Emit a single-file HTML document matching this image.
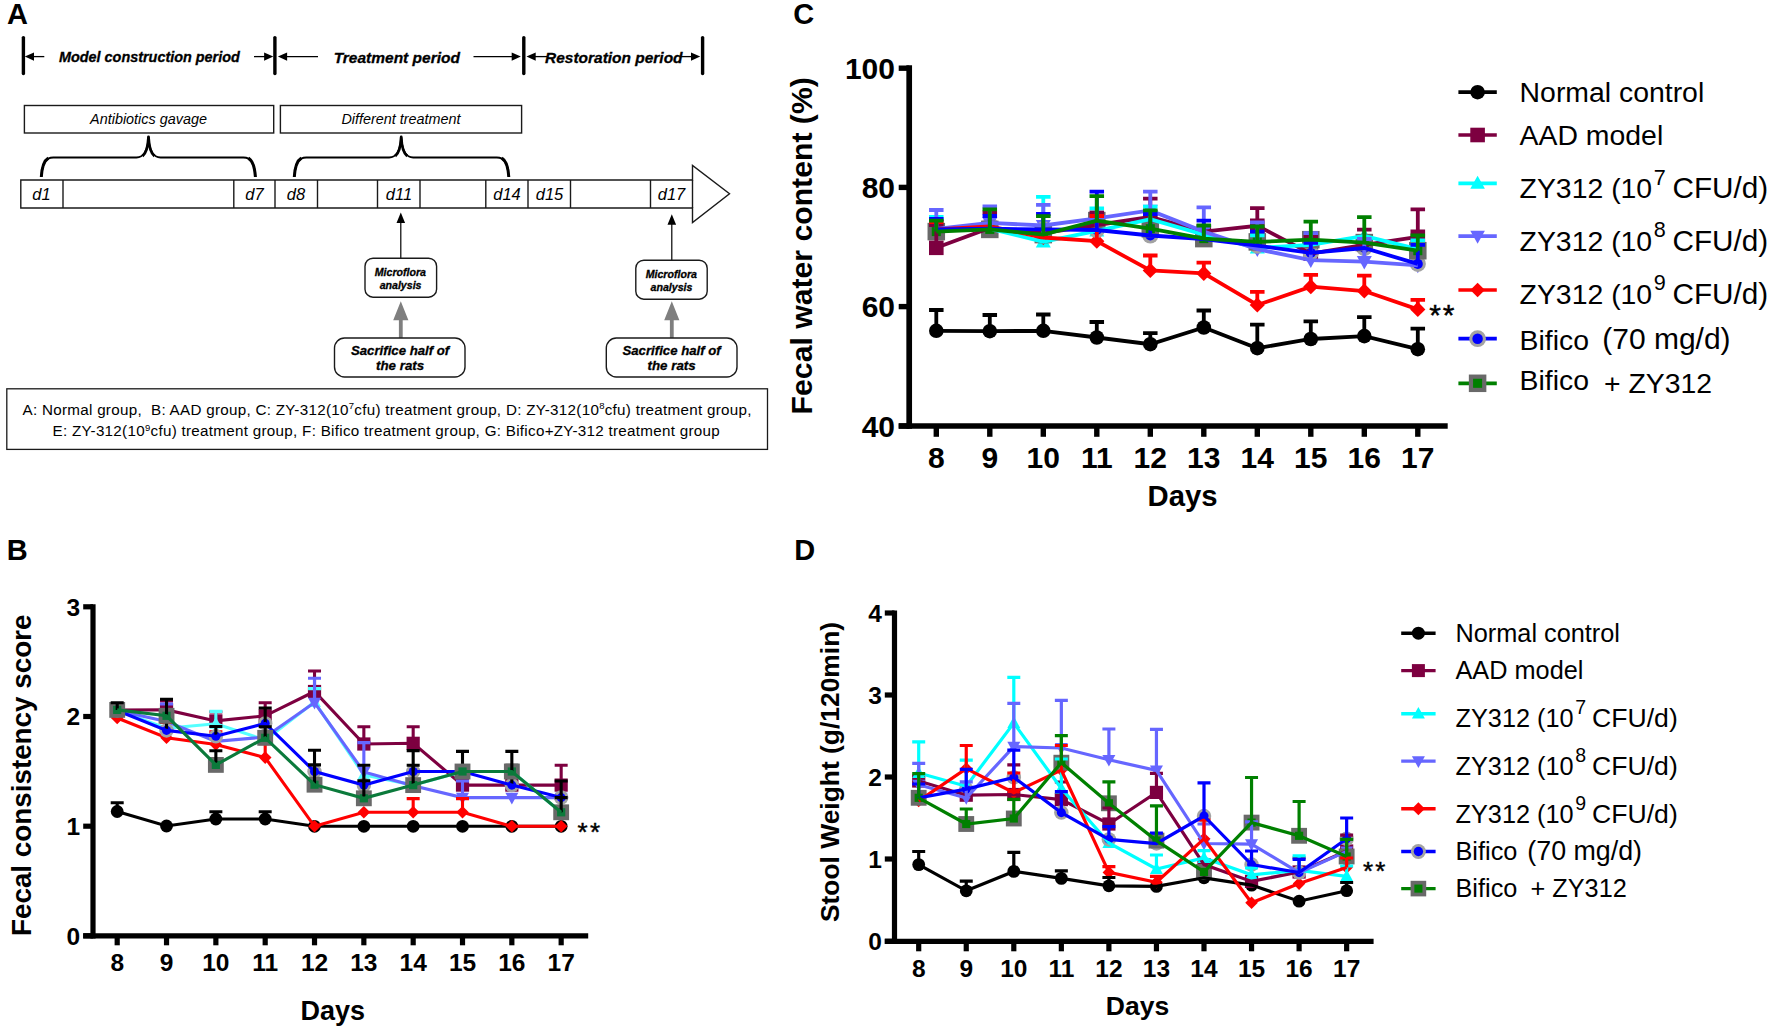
<!DOCTYPE html>
<html lang="en"><head><meta charset="utf-8"><title>Figure</title>
<style>html,body{margin:0;padding:0;background:#fff;}svg{display:block;}text{font-family:"Liberation Sans", sans-serif;}</style>
</head><body>
<svg width="1772" height="1031" viewBox="0 0 1772 1031">
<rect width="1772" height="1031" fill="#fff"/>
<text x="7" y="23.7" font-size="29" font-weight="bold" font-style="normal" text-anchor="start" fill="#000" >A</text>
<text x="6.8" y="559.7" font-size="29" font-weight="bold" font-style="normal" text-anchor="start" fill="#000" >B</text>
<text x="793.2" y="23.9" font-size="29" font-weight="bold" font-style="normal" text-anchor="start" fill="#000" >C</text>
<text x="794.2" y="559.7" font-size="29" font-weight="bold" font-style="normal" text-anchor="start" fill="#000" >D</text>
<g id="panelA">
<line x1="23.4" y1="37.6" x2="23.4" y2="73.6" stroke="#000" stroke-width="3.4" stroke-linecap="round"/>
<line x1="274.9" y1="37.6" x2="274.9" y2="73.6" stroke="#000" stroke-width="3.4" stroke-linecap="round"/>
<line x1="523.8" y1="37.6" x2="523.8" y2="73.6" stroke="#000" stroke-width="3.4" stroke-linecap="round"/>
<line x1="702.6" y1="37.6" x2="702.6" y2="73.6" stroke="#000" stroke-width="3.4" stroke-linecap="round"/>
<line x1="44.3" y1="56.6" x2="30.32" y2="56.6" stroke="#000" stroke-width="1.3"/>
<polygon points="24.8,56.6 34,52.4 34,60.8" fill="#000"/>
<line x1="254" y1="56.6" x2="267.78" y2="56.6" stroke="#000" stroke-width="1.3"/>
<polygon points="273.3,56.6 264.1,52.4 264.1,60.8" fill="#000"/>
<line x1="318" y1="56.6" x2="283.42" y2="56.6" stroke="#000" stroke-width="1.3"/>
<polygon points="277.9,56.6 287.1,52.4 287.1,60.8" fill="#000"/>
<line x1="473.5" y1="56.6" x2="515.38" y2="56.6" stroke="#000" stroke-width="1.3"/>
<polygon points="520.9,56.6 511.7,52.4 511.7,60.8" fill="#000"/>
<line x1="547" y1="56.6" x2="532.02" y2="56.6" stroke="#000" stroke-width="1.3"/>
<polygon points="526.5,56.6 535.7,52.4 535.7,60.8" fill="#000"/>
<line x1="680" y1="56.6" x2="694.68" y2="56.6" stroke="#000" stroke-width="1.3"/>
<polygon points="700.2,56.6 691,52.4 691,60.8" fill="#000"/>
<text x="149.4" y="62.1" font-size="14.42" font-weight="bold" font-style="italic" text-anchor="middle" fill="#000" stroke="#000" stroke-width="0.3">Model construction period</text>
<text x="396.8" y="62.6" font-size="15.5" font-weight="bold" font-style="italic" text-anchor="middle" fill="#000" stroke="#000" stroke-width="0.3">Treatment period</text>
<text x="613.8" y="62.6" font-size="15.47" font-weight="bold" font-style="italic" text-anchor="middle" fill="#000" stroke="#000" stroke-width="0.3">Restoration period</text>
<rect x="24.4" y="105.5" width="249.3" height="27.5" fill="#fff" stroke="#1a1a1a" stroke-width="1.4"/>
<rect x="280.4" y="105.5" width="241.2" height="27.5" fill="#fff" stroke="#1a1a1a" stroke-width="1.4"/>
<text x="148.5" y="123.9" font-size="14.4" font-weight="normal" font-style="italic" text-anchor="middle" fill="#000" >Antibiotics gavage</text>
<text x="401" y="123.8" font-size="14.4" font-weight="normal" font-style="italic" text-anchor="middle" fill="#000" >Different treatment</text>
<path d="M41.3 177 C42.3 163.5 45.3 157.5 53.3 157.5 L136.5 157.5 C143.5 157.5 147.5 151.5 148.5 137 C149.5 151.5 153.5 157.5 160.5 157.5 L243.4 157.5 C251.4 157.5 254.4 163.5 255.4 177" fill="none" stroke="#000" stroke-width="1.8" stroke-linejoin="round"/>
<path d="M41.3 177 C42 165.5 44.3 160.5 48.3 158.1" fill="none" stroke="#000" stroke-width="3"/>
<path d="M255.4 177 C254.7 165.5 252.4 160.5 248.4 158.1" fill="none" stroke="#000" stroke-width="3"/>
<path d="M142.5 156 C146 153.5 147.9 148.5 148.5 137 C149.1 148.5 151 153.5 154.5 156" fill="none" stroke="#000" stroke-width="2.8" stroke-linejoin="round"/>
<path d="M294.3 177 C295.3 163.5 298.3 157.5 306.3 157.5 L389.2 157.5 C396.2 157.5 400.2 151.5 401.2 137 C402.2 151.5 406.2 157.5 413.2 157.5 L496.8 157.5 C504.8 157.5 507.8 163.5 508.8 177" fill="none" stroke="#000" stroke-width="1.8" stroke-linejoin="round"/>
<path d="M294.3 177 C295 165.5 297.3 160.5 301.3 158.1" fill="none" stroke="#000" stroke-width="3"/>
<path d="M508.8 177 C508.1 165.5 505.8 160.5 501.8 158.1" fill="none" stroke="#000" stroke-width="3"/>
<path d="M395.2 156 C398.7 153.5 400.6 148.5 401.2 137 C401.8 148.5 403.7 153.5 407.2 156" fill="none" stroke="#000" stroke-width="2.8" stroke-linejoin="round"/>
<path d="M20.8 180 H692.5 V165.5 L729.5 193.8 L692.5 222.5 V208 H20.8 Z" fill="#fff" stroke="#1a1a1a" stroke-width="1.4" stroke-linejoin="miter"/>
<line x1="63" y1="180" x2="63" y2="208" stroke="#1a1a1a" stroke-width="1.4"/>
<line x1="233.8" y1="180" x2="233.8" y2="208" stroke="#1a1a1a" stroke-width="1.4"/>
<line x1="275" y1="180" x2="275" y2="208" stroke="#1a1a1a" stroke-width="1.4"/>
<line x1="317.5" y1="180" x2="317.5" y2="208" stroke="#1a1a1a" stroke-width="1.4"/>
<line x1="377.5" y1="180" x2="377.5" y2="208" stroke="#1a1a1a" stroke-width="1.4"/>
<line x1="420" y1="180" x2="420" y2="208" stroke="#1a1a1a" stroke-width="1.4"/>
<line x1="485.8" y1="180" x2="485.8" y2="208" stroke="#1a1a1a" stroke-width="1.4"/>
<line x1="528" y1="180" x2="528" y2="208" stroke="#1a1a1a" stroke-width="1.4"/>
<line x1="570.5" y1="180" x2="570.5" y2="208" stroke="#1a1a1a" stroke-width="1.4"/>
<line x1="650.5" y1="180" x2="650.5" y2="208" stroke="#1a1a1a" stroke-width="1.4"/>
<line x1="692.5" y1="180" x2="692.5" y2="208" stroke="#1a1a1a" stroke-width="1.4"/>
<text x="41.5" y="200" font-size="16.5" font-weight="normal" font-style="italic" text-anchor="middle" fill="#000" >d1</text>
<text x="254.5" y="200" font-size="16.5" font-weight="normal" font-style="italic" text-anchor="middle" fill="#000" >d7</text>
<text x="296" y="200" font-size="16.5" font-weight="normal" font-style="italic" text-anchor="middle" fill="#000" >d8</text>
<text x="399" y="200" font-size="16.5" font-weight="normal" font-style="italic" text-anchor="middle" fill="#000" >d11</text>
<text x="507" y="200" font-size="16.5" font-weight="normal" font-style="italic" text-anchor="middle" fill="#000" >d14</text>
<text x="549.5" y="200" font-size="16.5" font-weight="normal" font-style="italic" text-anchor="middle" fill="#000" >d15</text>
<text x="671.5" y="200" font-size="16.5" font-weight="normal" font-style="italic" text-anchor="middle" fill="#000" >d17</text>
<line x1="400.8" y1="218.5" x2="400.8" y2="258" stroke="#000" stroke-width="1.2"/>
<polygon points="400.8,212.5 396.5,223 405.1,223" fill="#000"/>
<line x1="671.8" y1="220.3" x2="671.8" y2="260" stroke="#000" stroke-width="1.2"/>
<polygon points="671.8,214.3 667.5,224.8 676.1,224.8" fill="#000"/>
<rect x="365" y="258.2" width="71.6" height="39" rx="8" ry="8" fill="#fff" stroke="#1a1a1a" stroke-width="1.4"/>
<rect x="635.8" y="260.2" width="71.4" height="39" rx="8" ry="8" fill="#fff" stroke="#1a1a1a" stroke-width="1.4"/>
<text x="400.4" y="275.5" font-size="10.6" font-weight="bold" font-style="italic" text-anchor="middle" fill="#000" stroke="#000" stroke-width="0.3">Microflora</text>
<text x="400.6" y="288.6" font-size="10.6" font-weight="bold" font-style="italic" text-anchor="middle" fill="#000" stroke="#000" stroke-width="0.3">analysis</text>
<text x="671.3" y="277.5" font-size="10.6" font-weight="bold" font-style="italic" text-anchor="middle" fill="#000" stroke="#000" stroke-width="0.3">Microflora</text>
<text x="671.5" y="290.6" font-size="10.6" font-weight="bold" font-style="italic" text-anchor="middle" fill="#000" stroke="#000" stroke-width="0.3">analysis</text>
<polygon points="400.8,301.2 408.4,320.2 402.7,320.2 402.7,338 398.9,338 398.9,320.2 393.2,320.2" fill="#7f7f7f"/>
<polygon points="671.8,301.2 679.4,320.2 673.7,320.2 673.7,338 669.9,338 669.9,320.2 664.2,320.2" fill="#7f7f7f"/>
<rect x="334.5" y="338" width="130.5" height="39" rx="10" ry="10" fill="#fff" stroke="#1a1a1a" stroke-width="1.4"/>
<rect x="606.3" y="338" width="130.7" height="39" rx="10" ry="10" fill="#fff" stroke="#1a1a1a" stroke-width="1.4"/>
<text x="400.1" y="354.7" font-size="13.2" font-weight="bold" font-style="italic" text-anchor="middle" fill="#000" stroke="#000" stroke-width="0.3">Sacrifice half of</text>
<text x="400.1" y="370.3" font-size="13.3" font-weight="bold" font-style="italic" text-anchor="middle" fill="#000" stroke="#000" stroke-width="0.3">the rats</text>
<text x="671.6" y="354.7" font-size="13.2" font-weight="bold" font-style="italic" text-anchor="middle" fill="#000" stroke="#000" stroke-width="0.3">Sacrifice half of</text>
<text x="671.6" y="370.3" font-size="13.3" font-weight="bold" font-style="italic" text-anchor="middle" fill="#000" stroke="#000" stroke-width="0.3">the rats</text>
<rect x="6.8" y="388.8" width="760.7" height="60.6" fill="#fff" stroke="#1a1a1a" stroke-width="1.3"/>
<text x="22.5" y="414.5" font-size="15.2" font-weight="normal" font-style="normal" text-anchor="start" fill="#000" xml:space="preserve" id="legA1" letter-spacing="0.29">A: Normal group,&#160; B: AAD group, C: ZY-312(10<tspan font-size="9.5" dy="-5.6">7</tspan><tspan dy="5.6">cfu) treatment group, D: ZY-312(10</tspan><tspan font-size="9.5" dy="-5.6">8</tspan><tspan dy="5.6">cfu) treatment group,</tspan></text>
<text x="52.5" y="436.2" font-size="15.2" font-weight="normal" font-style="normal" text-anchor="start" fill="#000" id="legA2" letter-spacing="0.29">E: ZY-312(10<tspan font-size="9.5" dy="-5.6">9</tspan><tspan dy="5.6">cfu) treatment group, F: Bifico treatment group, G: Bifico+ZY-312 treatment group</tspan></text>
</g>
<g id="panelC">
<circle cx="936.3" cy="330.8" r="7.3" fill="#000000"/>
<circle cx="989.8" cy="331.2" r="7.3" fill="#000000"/>
<circle cx="1043.3" cy="330.8" r="7.3" fill="#000000"/>
<circle cx="1096.8" cy="337.5" r="7.3" fill="#000000"/>
<circle cx="1150.3" cy="344.2" r="7.3" fill="#000000"/>
<circle cx="1203.8" cy="327.5" r="7.3" fill="#000000"/>
<circle cx="1257.3" cy="348.2" r="7.3" fill="#000000"/>
<circle cx="1310.8" cy="339" r="7.3" fill="#000000"/>
<circle cx="1364.3" cy="336.1" r="7.3" fill="#000000"/>
<circle cx="1417.8" cy="349.2" r="7.3" fill="#000000"/>
<rect x="929" y="240.5" width="14.6" height="14.6" fill="#7d0040"/>
<rect x="982.5" y="220.7" width="14.6" height="14.6" fill="#7d0040"/>
<rect x="1036" y="225.7" width="14.6" height="14.6" fill="#7d0040"/>
<rect x="1089.5" y="217.7" width="14.6" height="14.6" fill="#7d0040"/>
<rect x="1143" y="209.7" width="14.6" height="14.6" fill="#7d0040"/>
<rect x="1196.5" y="224.3" width="14.6" height="14.6" fill="#7d0040"/>
<rect x="1250" y="218.5" width="14.6" height="14.6" fill="#7d0040"/>
<rect x="1303.5" y="246.3" width="14.6" height="14.6" fill="#7d0040"/>
<rect x="1357" y="237.5" width="14.6" height="14.6" fill="#7d0040"/>
<rect x="1410.5" y="229.5" width="14.6" height="14.6" fill="#7d0040"/>
<polygon points="936.3,221.12 928.8,234.62 943.8,234.62" fill="#00ffff"/>
<polygon points="989.8,220.82 982.3,234.32 997.3,234.32" fill="#00ffff"/>
<polygon points="1043.3,234.03 1035.8,247.53 1050.8,247.53" fill="#00ffff"/>
<polygon points="1096.8,223.03 1089.3,236.53 1104.3,236.53" fill="#00ffff"/>
<polygon points="1150.3,211.32 1142.8,224.82 1157.8,224.82" fill="#00ffff"/>
<polygon points="1203.8,226.72 1196.3,240.22 1211.3,240.22" fill="#00ffff"/>
<polygon points="1257.3,239.93 1249.8,253.43 1264.8,253.43" fill="#00ffff"/>
<polygon points="1310.8,236.93 1303.3,250.43 1318.3,250.43" fill="#00ffff"/>
<polygon points="1364.3,228.12 1356.8,241.62 1371.8,241.62" fill="#00ffff"/>
<polygon points="1417.8,241.32 1410.3,254.82 1425.3,254.82" fill="#00ffff"/>
<polygon points="936.3,236.88 928.8,223.38 943.8,223.38" fill="#6666ff"/>
<polygon points="989.8,230.68 982.3,217.18 997.3,217.18" fill="#6666ff"/>
<polygon points="1043.3,233.38 1035.8,219.88 1050.8,219.88" fill="#6666ff"/>
<polygon points="1096.8,226.28 1089.3,212.78 1104.3,212.78" fill="#6666ff"/>
<polygon points="1150.3,218.28 1142.8,204.78 1157.8,204.78" fill="#6666ff"/>
<polygon points="1203.8,239.47 1196.3,225.97 1211.3,225.97" fill="#6666ff"/>
<polygon points="1257.3,257.07 1249.8,243.57 1264.8,243.57" fill="#6666ff"/>
<polygon points="1310.8,268.07 1303.3,254.57 1318.3,254.57" fill="#6666ff"/>
<polygon points="1364.3,269.57 1356.8,256.07 1371.8,256.07" fill="#6666ff"/>
<polygon points="1417.8,273.27 1410.3,259.77 1425.3,259.77" fill="#6666ff"/>
<polygon points="936.3,221.9 943.9,229.5 936.3,237.1 928.7,229.5" fill="#ff0000"/>
<polygon points="989.8,218.9 997.4,226.5 989.8,234.1 982.2,226.5" fill="#ff0000"/>
<polygon points="1043.3,229.9 1050.9,237.5 1043.3,245.1 1035.7,237.5" fill="#ff0000"/>
<polygon points="1096.8,233.6 1104.4,241.2 1096.8,248.8 1089.2,241.2" fill="#ff0000"/>
<polygon points="1150.3,262.9 1157.9,270.5 1150.3,278.1 1142.7,270.5" fill="#ff0000"/>
<polygon points="1203.8,265.8 1211.4,273.4 1203.8,281 1196.2,273.4" fill="#ff0000"/>
<polygon points="1257.3,297.4 1264.9,305 1257.3,312.6 1249.7,305" fill="#ff0000"/>
<polygon points="1310.8,279.1 1318.4,286.7 1310.8,294.3 1303.2,286.7" fill="#ff0000"/>
<polygon points="1364.3,283.4 1371.9,291 1364.3,298.6 1356.7,291" fill="#ff0000"/>
<polygon points="1417.8,301.8 1425.4,309.4 1417.8,317 1410.2,309.4" fill="#ff0000"/>
<circle cx="936.3" cy="229.5" r="8.05" fill="#a3a3a3"/>
<circle cx="936.3" cy="229.5" r="5.04" fill="#0000ff"/>
<circle cx="989.8" cy="228.7" r="8.05" fill="#a3a3a3"/>
<circle cx="989.8" cy="228.7" r="5.04" fill="#0000ff"/>
<circle cx="1043.3" cy="229.4" r="8.05" fill="#a3a3a3"/>
<circle cx="1043.3" cy="229.4" r="5.04" fill="#0000ff"/>
<circle cx="1096.8" cy="230" r="8.05" fill="#a3a3a3"/>
<circle cx="1096.8" cy="230" r="5.04" fill="#0000ff"/>
<circle cx="1150.3" cy="235.5" r="8.05" fill="#a3a3a3"/>
<circle cx="1150.3" cy="235.5" r="5.04" fill="#0000ff"/>
<circle cx="1203.8" cy="239" r="8.05" fill="#a3a3a3"/>
<circle cx="1203.8" cy="239" r="5.04" fill="#0000ff"/>
<circle cx="1257.3" cy="245.6" r="8.05" fill="#a3a3a3"/>
<circle cx="1257.3" cy="245.6" r="5.04" fill="#0000ff"/>
<circle cx="1310.8" cy="252.9" r="8.05" fill="#a3a3a3"/>
<circle cx="1310.8" cy="252.9" r="5.04" fill="#0000ff"/>
<circle cx="1364.3" cy="248" r="8.05" fill="#a3a3a3"/>
<circle cx="1364.3" cy="248" r="5.04" fill="#0000ff"/>
<circle cx="1417.8" cy="263.9" r="8.05" fill="#a3a3a3"/>
<circle cx="1417.8" cy="263.9" r="5.04" fill="#0000ff"/>
<rect x="927.54" y="222.84" width="17.52" height="17.52" fill="#696969"/>
<rect x="931.77" y="227.07" width="9.05" height="9.05" fill="#008000"/>
<rect x="981.04" y="220.64" width="17.52" height="17.52" fill="#696969"/>
<rect x="985.27" y="224.87" width="9.05" height="9.05" fill="#008000"/>
<rect x="1034.54" y="225.84" width="17.52" height="17.52" fill="#696969"/>
<rect x="1038.77" y="230.07" width="9.05" height="9.05" fill="#008000"/>
<rect x="1088.04" y="211.84" width="17.52" height="17.52" fill="#696969"/>
<rect x="1092.27" y="216.07" width="9.05" height="9.05" fill="#008000"/>
<rect x="1141.54" y="219.94" width="17.52" height="17.52" fill="#696969"/>
<rect x="1145.77" y="224.17" width="9.05" height="9.05" fill="#008000"/>
<rect x="1195.04" y="229.84" width="17.52" height="17.52" fill="#696969"/>
<rect x="1199.27" y="234.07" width="9.05" height="9.05" fill="#008000"/>
<rect x="1248.54" y="233.14" width="17.52" height="17.52" fill="#696969"/>
<rect x="1252.77" y="237.37" width="9.05" height="9.05" fill="#008000"/>
<rect x="1302.04" y="230.94" width="17.52" height="17.52" fill="#696969"/>
<rect x="1306.27" y="235.17" width="9.05" height="9.05" fill="#008000"/>
<rect x="1355.54" y="233.84" width="17.52" height="17.52" fill="#696969"/>
<rect x="1359.77" y="238.07" width="9.05" height="9.05" fill="#008000"/>
<rect x="1409.04" y="241.94" width="17.52" height="17.52" fill="#696969"/>
<rect x="1413.27" y="246.17" width="9.05" height="9.05" fill="#008000"/>
<path d="M936.3 330.8V310M929.05 310H943.55M989.8 331.2V315M982.55 315H997.05M1043.3 330.8V314.5M1036.05 314.5H1050.55M1096.8 337.5V322M1089.55 322H1104.05M1150.3 344.2V333.2M1143.05 333.2H1157.55M1203.8 327.5V310.5M1196.55 310.5H1211.05M1257.3 348.2V324.6M1250.05 324.6H1264.55M1310.8 339V321.4M1303.55 321.4H1318.05M1364.3 336.1V317.1M1357.05 317.1H1371.55M1417.8 349.2V328.6M1410.55 328.6H1425.05" stroke="#000000" stroke-width="3.8" fill="none"/>
<polyline points="936.3,330.8 989.8,331.2 1043.3,330.8 1096.8,337.5 1150.3,344.2 1203.8,327.5 1257.3,348.2 1310.8,339 1364.3,336.1 1417.8,349.2" stroke="#000000" stroke-width="3.8" fill="none" stroke-linejoin="miter"/>
<path d="M936.3 247.8V225M929.05 225H943.55M989.8 228V212.5M982.55 212.5H997.05M1096.8 225V212.5M1089.55 212.5H1104.05M1150.3 217V198.6M1143.05 198.6H1157.55M1257.3 225.8V208.2M1250.05 208.2H1264.55M1310.8 253.6V236.8M1303.55 236.8H1318.05M1364.3 244.8V229.7M1357.05 229.7H1371.55M1417.8 236.8V209.3M1410.55 209.3H1425.05" stroke="#7d0040" stroke-width="3.8" fill="none"/>
<polyline points="936.3,247.8 989.8,228 1043.3,233 1096.8,225 1150.3,217 1203.8,231.6 1257.3,225.8 1310.8,253.6 1364.3,244.8 1417.8,236.8" stroke="#7d0040" stroke-width="3.8" fill="none" stroke-linejoin="miter"/>
<path d="M936.3 229V217M929.05 217H943.55M1043.3 241.9V196.9M1036.05 196.9H1050.55M1096.8 230.9V208.4M1089.55 208.4H1104.05M1150.3 219.2V206.7M1143.05 206.7H1157.55M1257.3 247.8V235.3M1250.05 235.3H1264.55M1417.8 249.2V240.4M1410.55 240.4H1425.05" stroke="#00ffff" stroke-width="3.8" fill="none"/>
<polyline points="936.3,229 989.8,228.7 1043.3,241.9 1096.8,230.9 1150.3,219.2 1203.8,234.6 1257.3,247.8 1310.8,244.8 1364.3,236 1417.8,249.2" stroke="#00ffff" stroke-width="3.8" fill="none" stroke-linejoin="miter"/>
<path d="M936.3 229V210M929.05 210H943.55M989.8 222.8V206.4M982.55 206.4H997.05M1043.3 225.5V204.8M1036.05 204.8H1050.55M1150.3 210.4V191.7M1143.05 191.7H1157.55M1203.8 231.6V207.4M1196.55 207.4H1211.05M1257.3 249.2V222.4M1250.05 222.4H1264.55M1310.8 260.2V233.1M1303.55 233.1H1318.05M1364.3 261.7V239M1357.05 239H1371.55" stroke="#6666ff" stroke-width="3.8" fill="none"/>
<polyline points="936.3,229 989.8,222.8 1043.3,225.5 1096.8,218.4 1150.3,210.4 1203.8,231.6 1257.3,249.2 1310.8,260.2 1364.3,261.7 1417.8,265.4" stroke="#6666ff" stroke-width="3.8" fill="none" stroke-linejoin="miter"/>
<path d="M936.3 229.5V222M929.05 222H943.55M1096.8 241.2V216M1089.55 216H1104.05M1150.3 270.5V255.5M1143.05 255.5H1157.55M1203.8 273.4V262.7M1196.55 262.7H1211.05M1257.3 305V291.8M1250.05 291.8H1264.55M1310.8 286.7V274.9M1303.55 274.9H1318.05M1364.3 291V275.7M1357.05 275.7H1371.55M1417.8 309.4V299.9M1410.55 299.9H1425.05" stroke="#ff0000" stroke-width="3.8" fill="none"/>
<polyline points="936.3,229.5 989.8,226.5 1043.3,237.5 1096.8,241.2 1150.3,270.5 1203.8,273.4 1257.3,305 1310.8,286.7 1364.3,291 1417.8,309.4" stroke="#ff0000" stroke-width="3.8" fill="none" stroke-linejoin="miter"/>
<path d="M936.3 229.5V219M929.05 219H943.55M989.8 228.7V216M982.55 216H997.05M1043.3 229.4V214M1036.05 214H1050.55M1096.8 230V191.7M1089.55 191.7H1104.05M1150.3 235.5V214M1143.05 214H1157.55M1203.8 239V220.6M1196.55 220.6H1211.05M1257.3 245.6V231.6M1250.05 231.6H1264.55M1310.8 252.9V242.9M1303.55 242.9H1318.05M1417.8 263.9V244.8M1410.55 244.8H1425.05" stroke="#0000ff" stroke-width="3.8" fill="none"/>
<polyline points="936.3,229.5 989.8,228.7 1043.3,229.4 1096.8,230 1150.3,235.5 1203.8,239 1257.3,245.6 1310.8,252.9 1364.3,248 1417.8,263.9" stroke="#0000ff" stroke-width="3.8" fill="none" stroke-linejoin="miter"/>
<path d="M936.3 231.6V220.6M929.05 220.6H943.55M989.8 229.4V209.3M982.55 209.3H997.05M1043.3 234.6V216.2M1036.05 216.2H1050.55M1096.8 220.6V196.1M1089.55 196.1H1104.05M1150.3 228.7V210.4M1143.05 210.4H1157.55M1203.8 238.6V225.5M1196.55 225.5H1211.05M1257.3 241.9V226.5M1250.05 226.5H1264.55M1310.8 239.7V221.7M1303.55 221.7H1318.05M1364.3 242.6V217.2M1357.05 217.2H1371.55M1417.8 250.7V235.3M1410.55 235.3H1425.05" stroke="#008000" stroke-width="3.8" fill="none"/>
<polyline points="936.3,231.6 989.8,229.4 1043.3,234.6 1096.8,220.6 1150.3,228.7 1203.8,238.6 1257.3,241.9 1310.8,239.7 1364.3,242.6 1417.8,250.7" stroke="#008000" stroke-width="3.8" fill="none" stroke-linejoin="miter"/>
<line x1="909.2" y1="65.2" x2="909.2" y2="428.85" stroke="#000" stroke-width="5.7"/>
<line x1="898.7" y1="426" x2="1447.7" y2="426" stroke="#000" stroke-width="5.7"/>
<line x1="898.7" y1="68.2" x2="909.2" y2="68.2" stroke="#000" stroke-width="5.4"/>
<text x="895" y="78.94" font-size="30" font-weight="bold" font-style="normal" text-anchor="end" fill="#000" >100</text>
<line x1="898.7" y1="187.4" x2="909.2" y2="187.4" stroke="#000" stroke-width="5.4"/>
<text x="895" y="198.14" font-size="30" font-weight="bold" font-style="normal" text-anchor="end" fill="#000" >80</text>
<line x1="898.7" y1="306.6" x2="909.2" y2="306.6" stroke="#000" stroke-width="5.4"/>
<text x="895" y="317.34" font-size="30" font-weight="bold" font-style="normal" text-anchor="end" fill="#000" >60</text>
<line x1="898.7" y1="426" x2="909.2" y2="426" stroke="#000" stroke-width="5.4"/>
<text x="895" y="436.74" font-size="30" font-weight="bold" font-style="normal" text-anchor="end" fill="#000" >40</text>
<line x1="936.3" y1="426" x2="936.3" y2="436.8" stroke="#000" stroke-width="5.4"/>
<text x="936.3" y="467.7" font-size="30" font-weight="bold" font-style="normal" text-anchor="middle" fill="#000" >8</text>
<line x1="989.8" y1="426" x2="989.8" y2="436.8" stroke="#000" stroke-width="5.4"/>
<text x="989.8" y="467.7" font-size="30" font-weight="bold" font-style="normal" text-anchor="middle" fill="#000" >9</text>
<line x1="1043.3" y1="426" x2="1043.3" y2="436.8" stroke="#000" stroke-width="5.4"/>
<text x="1043.3" y="467.7" font-size="30" font-weight="bold" font-style="normal" text-anchor="middle" fill="#000" >10</text>
<line x1="1096.8" y1="426" x2="1096.8" y2="436.8" stroke="#000" stroke-width="5.4"/>
<text x="1096.8" y="467.7" font-size="30" font-weight="bold" font-style="normal" text-anchor="middle" fill="#000" >11</text>
<line x1="1150.3" y1="426" x2="1150.3" y2="436.8" stroke="#000" stroke-width="5.4"/>
<text x="1150.3" y="467.7" font-size="30" font-weight="bold" font-style="normal" text-anchor="middle" fill="#000" >12</text>
<line x1="1203.8" y1="426" x2="1203.8" y2="436.8" stroke="#000" stroke-width="5.4"/>
<text x="1203.8" y="467.7" font-size="30" font-weight="bold" font-style="normal" text-anchor="middle" fill="#000" >13</text>
<line x1="1257.3" y1="426" x2="1257.3" y2="436.8" stroke="#000" stroke-width="5.4"/>
<text x="1257.3" y="467.7" font-size="30" font-weight="bold" font-style="normal" text-anchor="middle" fill="#000" >14</text>
<line x1="1310.8" y1="426" x2="1310.8" y2="436.8" stroke="#000" stroke-width="5.4"/>
<text x="1310.8" y="467.7" font-size="30" font-weight="bold" font-style="normal" text-anchor="middle" fill="#000" >15</text>
<line x1="1364.3" y1="426" x2="1364.3" y2="436.8" stroke="#000" stroke-width="5.4"/>
<text x="1364.3" y="467.7" font-size="30" font-weight="bold" font-style="normal" text-anchor="middle" fill="#000" >16</text>
<line x1="1417.8" y1="426" x2="1417.8" y2="436.8" stroke="#000" stroke-width="5.4"/>
<text x="1417.8" y="467.7" font-size="30" font-weight="bold" font-style="normal" text-anchor="middle" fill="#000" >17</text>
<text x="1182.5" y="505.6" font-size="29.3" font-weight="bold" font-style="normal" text-anchor="middle" fill="#000" >Days</text>
<text transform="translate(811.8 245.8) rotate(-90)" font-size="30.2" font-weight="bold" text-anchor="middle">Fecal water content (%)</text>
<text x="1429.3" y="325.3" font-size="30" font-weight="normal" font-style="normal" text-anchor="start" fill="#000" letter-spacing="1.7" stroke="#000" stroke-width="0.45">**</text>
</g>
<g id="legendC">
<line x1="1458.4" y1="92.2" x2="1496.8" y2="92.2" stroke="#000000" stroke-width="3.7"/>
<circle cx="1477.6" cy="92.2" r="7.3" fill="#000000"/>
<text x="1519.6" y="102.2" font-size="28.4" font-weight="normal" font-style="normal" text-anchor="start" fill="#000" xml:space="preserve">Normal control</text>
<line x1="1458.4" y1="135" x2="1496.8" y2="135" stroke="#7d0040" stroke-width="3.7"/>
<rect x="1470.3" y="127.7" width="14.6" height="14.6" fill="#7d0040"/>
<text x="1519.6" y="144.9" font-size="28.4" font-weight="normal" font-style="normal" text-anchor="start" fill="#000" xml:space="preserve">AAD model</text>
<line x1="1458.4" y1="183.3" x2="1496.8" y2="183.3" stroke="#00ffff" stroke-width="3.7"/>
<polygon points="1477.6,175.64 1470.3,188.78 1484.9,188.78" fill="#00ffff"/>
<text x="1519.6" y="198.3" font-size="28.4" font-weight="normal" font-style="normal" text-anchor="start" fill="#000" xml:space="preserve">ZY312 (10<tspan font-size="21.6" dy="-13.7" dx="1.5">7</tspan><tspan dy="13.7" dx="-1.4" font-size="29.7"> CFU/d)</tspan></text>
<line x1="1458.4" y1="236.2" x2="1496.8" y2="236.2" stroke="#6666ff" stroke-width="3.7"/>
<polygon points="1477.6,243.86 1470.3,230.72 1484.9,230.72" fill="#6666ff"/>
<text x="1519.6" y="250.8" font-size="28.4" font-weight="normal" font-style="normal" text-anchor="start" fill="#000" xml:space="preserve">ZY312 (10<tspan font-size="21.6" dy="-13.7" dx="1.5">8</tspan><tspan dy="13.7" dx="-1.4" font-size="29.7"> CFU/d)</tspan></text>
<line x1="1458.4" y1="290" x2="1496.8" y2="290" stroke="#ff0000" stroke-width="3.7"/>
<polygon points="1477.6,282.7 1484.9,290 1477.6,297.3 1470.3,290" fill="#ff0000"/>
<text x="1519.6" y="304" font-size="28.4" font-weight="normal" font-style="normal" text-anchor="start" fill="#000" xml:space="preserve">ZY312 (10<tspan font-size="21.6" dy="-13.7" dx="1.5">9</tspan><tspan dy="13.7" dx="-1.4" font-size="29.7"> CFU/d)</tspan></text>
<line x1="1458.4" y1="338.7" x2="1496.8" y2="338.7" stroke="#0000ff" stroke-width="3.7"/>
<circle cx="1477.6" cy="338.7" r="8.39" fill="#a3a3a3"/>
<circle cx="1477.6" cy="338.7" r="5.26" fill="#0000ff"/>
<text x="1519.6" y="350" font-size="28.4" font-weight="normal" font-style="normal" text-anchor="start" fill="#000" xml:space="preserve">Bifico<tspan dx="13.2" dy="-1.5" font-size="30">(70 mg/d)</tspan></text>
<line x1="1458.4" y1="383.3" x2="1496.8" y2="383.3" stroke="#008000" stroke-width="3.7"/>
<rect x="1468.84" y="374.54" width="17.52" height="17.52" fill="#696969"/>
<rect x="1473.07" y="378.77" width="9.05" height="9.05" fill="#008000"/>
<text x="1519.6" y="390.2" font-size="28.4" font-weight="normal" font-style="normal" text-anchor="start" fill="#000" xml:space="preserve">Bifico<tspan dx="15" dy="3.2">+ ZY312</tspan></text>
</g>
<g id="panelB">
<circle cx="117.2" cy="811.5" r="6.4" fill="#000000"/>
<circle cx="166.53" cy="826" r="6.4" fill="#000000"/>
<circle cx="215.86" cy="819" r="6.4" fill="#000000"/>
<circle cx="265.19" cy="819" r="6.4" fill="#000000"/>
<circle cx="314.52" cy="826.3" r="6.4" fill="#000000"/>
<circle cx="363.85" cy="826.3" r="6.4" fill="#000000"/>
<circle cx="413.18" cy="826.3" r="6.4" fill="#000000"/>
<circle cx="462.51" cy="826.3" r="6.4" fill="#000000"/>
<circle cx="511.84" cy="826.3" r="6.4" fill="#000000"/>
<circle cx="561.17" cy="826.3" r="6.4" fill="#000000"/>
<path d="M117.2 811.5V802.7M110.7 802.7H123.7M215.86 819V811.8M209.36 811.8H222.36M265.19 819V811.8M258.69 811.8H271.69" stroke="#000000" stroke-width="3.1" fill="none"/>
<polyline points="117.2,811.5 166.53,826 215.86,819 265.19,819 314.52,826.3 363.85,826.3 413.18,826.3 462.51,826.3 511.84,826.3 561.17,826.3" stroke="#000000" stroke-width="3.1" fill="none" stroke-linejoin="miter"/>
<rect x="110.6" y="703.4" width="13.2" height="13.2" fill="#7d0040"/>
<rect x="159.93" y="703.3" width="13.2" height="13.2" fill="#7d0040"/>
<rect x="209.26" y="714.3" width="13.2" height="13.2" fill="#7d0040"/>
<rect x="258.59" y="709.2" width="13.2" height="13.2" fill="#7d0040"/>
<rect x="307.92" y="684.9" width="13.2" height="13.2" fill="#7d0040"/>
<rect x="357.25" y="737.4" width="13.2" height="13.2" fill="#7d0040"/>
<rect x="406.58" y="736.7" width="13.2" height="13.2" fill="#7d0040"/>
<rect x="455.91" y="778.5" width="13.2" height="13.2" fill="#7d0040"/>
<rect x="505.24" y="778.5" width="13.2" height="13.2" fill="#7d0040"/>
<rect x="554.57" y="778.5" width="13.2" height="13.2" fill="#7d0040"/>
<path d="M166.53 709.9V701M160.03 701H173.03M215.86 720.9V712M209.36 712H222.36M265.19 715.8V702.8M258.69 702.8H271.69M314.52 691.5V671M308.02 671H321.02M363.85 744V726.7M357.35 726.7H370.35M413.18 743.3V726.7M406.68 726.7H419.68M561.17 785.1V765.3M554.67 765.3H567.67" stroke="#7d0040" stroke-width="3.1" fill="none"/>
<polyline points="117.2,710 166.53,709.9 215.86,720.9 265.19,715.8 314.52,691.5 363.85,744 413.18,743.3 462.51,785.1 511.84,785.1 561.17,785.1" stroke="#7d0040" stroke-width="3.1" fill="none" stroke-linejoin="miter"/>
<polygon points="117.2,703.67 110.7,715.38 123.7,715.38" fill="#55ffff"/>
<polygon points="166.53,721.38 160.03,733.08 173.03,733.08" fill="#55ffff"/>
<polygon points="215.86,716.97 209.36,728.67 222.36,728.67" fill="#55ffff"/>
<polygon points="265.19,733.17 258.69,744.88 271.69,744.88" fill="#55ffff"/>
<polygon points="314.52,695.17 308.02,706.88 321.02,706.88" fill="#55ffff"/>
<polygon points="363.85,767.97 357.35,779.67 370.35,779.67" fill="#55ffff"/>
<polygon points="413.18,778.27 406.68,789.98 419.68,789.98" fill="#55ffff"/>
<polygon points="462.51,764.67 456.01,776.38 469.01,776.38" fill="#55ffff"/>
<polygon points="511.84,764.67 505.34,776.38 518.34,776.38" fill="#55ffff"/>
<polygon points="561.17,805.47 554.67,817.17 567.67,817.17" fill="#55ffff"/>
<path d="M215.86 723.8V711.4M209.36 711.4H222.36M314.52 702V688.6M308.02 688.6H321.02" stroke="#55ffff" stroke-width="3.1" fill="none"/>
<polyline points="117.2,710.5 166.53,728.2 215.86,723.8 265.19,740 314.52,702 363.85,774.8 413.18,785.1 462.51,771.5 511.84,771.5 561.17,812.3" stroke="#55ffff" stroke-width="3.1" fill="none" stroke-linejoin="miter"/>
<polygon points="117.2,717.33 110.7,705.62 123.7,705.62" fill="#6666ff"/>
<polygon points="166.53,728.43 160.03,716.73 173.03,716.73" fill="#6666ff"/>
<polygon points="215.86,748.23 209.36,736.52 222.36,736.52" fill="#6666ff"/>
<polygon points="265.19,743.83 258.69,732.12 271.69,732.12" fill="#6666ff"/>
<polygon points="314.52,709.43 308.02,697.73 321.02,697.73" fill="#6666ff"/>
<polygon points="363.85,778.73 357.35,767.02 370.35,767.02" fill="#6666ff"/>
<polygon points="413.18,792.62 406.68,780.92 419.68,780.92" fill="#6666ff"/>
<polygon points="462.51,804.43 456.01,792.73 469.01,792.73" fill="#6666ff"/>
<polygon points="511.84,804.43 505.34,792.73 518.34,792.73" fill="#6666ff"/>
<polygon points="561.17,804.43 554.67,792.73 567.67,792.73" fill="#6666ff"/>
<path d="M166.53 721.6V704M160.03 704H173.03M314.52 702.6V678.3M308.02 678.3H321.02M363.85 771.9V742.6M357.35 742.6H370.35M462.51 797.6V781M456.01 781H469.01" stroke="#6666ff" stroke-width="3.1" fill="none"/>
<polyline points="117.2,710.5 166.53,721.6 215.86,741.4 265.19,737 314.52,702.6 363.85,771.9 413.18,785.8 462.51,797.6 511.84,797.6 561.17,797.6" stroke="#6666ff" stroke-width="3.1" fill="none" stroke-linejoin="miter"/>
<polygon points="117.2,711.7 123.5,718 117.2,724.3 110.9,718" fill="#ff0000"/>
<polygon points="166.53,731.5 172.83,737.8 166.53,744.1 160.23,737.8" fill="#ff0000"/>
<polygon points="215.86,738.1 222.16,744.4 215.86,750.7 209.56,744.4" fill="#ff0000"/>
<polygon points="265.19,751.3 271.49,757.6 265.19,763.9 258.89,757.6" fill="#ff0000"/>
<polygon points="314.52,820 320.82,826.3 314.52,832.6 308.22,826.3" fill="#ff0000"/>
<polygon points="363.85,806 370.15,812.3 363.85,818.6 357.55,812.3" fill="#ff0000"/>
<polygon points="413.18,806 419.48,812.3 413.18,818.6 406.88,812.3" fill="#ff0000"/>
<polygon points="462.51,806 468.81,812.3 462.51,818.6 456.21,812.3" fill="#ff0000"/>
<polygon points="511.84,820 518.14,826.3 511.84,832.6 505.54,826.3" fill="#ff0000"/>
<polygon points="561.17,820 567.47,826.3 561.17,832.6 554.87,826.3" fill="#ff0000"/>
<path d="M166.53 737.8V722.4M160.03 722.4H173.03M215.86 744.4V731.9M209.36 731.9H222.36M265.19 757.6V743.6M258.69 743.6H271.69M413.18 812.3V798.6M406.68 798.6H419.68M462.51 812.3V798.6M456.01 798.6H469.01" stroke="#ff0000" stroke-width="3.1" fill="none"/>
<polyline points="117.2,718 166.53,737.8 215.86,744.4 265.19,757.6 314.52,826.3 363.85,812.3 413.18,812.3 462.51,812.3 511.84,826.3 561.17,826.3" stroke="#ff0000" stroke-width="3.1" fill="none" stroke-linejoin="miter"/>
<circle cx="117.2" cy="710.5" r="7.24" fill="#a3a3a3"/>
<circle cx="117.2" cy="710.5" r="4.54" fill="#0000ff"/>
<circle cx="166.53" cy="730.4" r="7.24" fill="#a3a3a3"/>
<circle cx="166.53" cy="730.4" r="4.54" fill="#0000ff"/>
<circle cx="215.86" cy="736.3" r="7.24" fill="#a3a3a3"/>
<circle cx="215.86" cy="736.3" r="4.54" fill="#0000ff"/>
<circle cx="265.19" cy="723.4" r="7.24" fill="#a3a3a3"/>
<circle cx="265.19" cy="723.4" r="4.54" fill="#0000ff"/>
<circle cx="314.52" cy="771.5" r="7.24" fill="#a3a3a3"/>
<circle cx="314.52" cy="771.5" r="4.54" fill="#0000ff"/>
<circle cx="363.85" cy="785.1" r="7.24" fill="#a3a3a3"/>
<circle cx="363.85" cy="785.1" r="4.54" fill="#0000ff"/>
<circle cx="413.18" cy="771.5" r="7.24" fill="#a3a3a3"/>
<circle cx="413.18" cy="771.5" r="4.54" fill="#0000ff"/>
<circle cx="462.51" cy="771.5" r="7.24" fill="#a3a3a3"/>
<circle cx="462.51" cy="771.5" r="4.54" fill="#0000ff"/>
<circle cx="511.84" cy="785.1" r="7.24" fill="#a3a3a3"/>
<circle cx="511.84" cy="785.1" r="4.54" fill="#0000ff"/>
<circle cx="561.17" cy="797.6" r="7.24" fill="#a3a3a3"/>
<circle cx="561.17" cy="797.6" r="4.54" fill="#0000ff"/>
<path d="M166.53 730.4V716M160.03 716H173.03M215.86 736.3V726.5M209.36 726.5H222.36M265.19 723.4V708M258.69 708H271.69M314.52 771.5V750.2M308.02 750.2H321.02M363.85 785.1V765.3M357.35 765.3H370.35M413.18 771.5V750.6M406.68 750.6H419.68M462.51 771.5V751.4M456.01 751.4H469.01M511.84 785.1V765.3M505.34 765.3H518.34M561.17 797.6V781M554.67 781H567.67" stroke="#000" stroke-width="3.1" fill="none"/>
<polyline points="117.2,710.5 166.53,730.4 215.86,736.3 265.19,723.4 314.52,771.5 363.85,785.1 413.18,771.5 462.51,771.5 511.84,785.1 561.17,797.6" stroke="#0000ff" stroke-width="3.1" fill="none" stroke-linejoin="miter"/>
<rect x="109.28" y="701.98" width="15.84" height="15.84" fill="#696969"/>
<rect x="113.11" y="705.81" width="8.18" height="8.18" fill="#0b7a3b"/>
<rect x="158.61" y="707.88" width="15.84" height="15.84" fill="#696969"/>
<rect x="162.44" y="711.71" width="8.18" height="8.18" fill="#0b7a3b"/>
<rect x="207.94" y="756.98" width="15.84" height="15.84" fill="#696969"/>
<rect x="211.77" y="760.81" width="8.18" height="8.18" fill="#0b7a3b"/>
<rect x="257.27" y="729.88" width="15.84" height="15.84" fill="#696969"/>
<rect x="261.1" y="733.71" width="8.18" height="8.18" fill="#0b7a3b"/>
<rect x="306.6" y="776.78" width="15.84" height="15.84" fill="#696969"/>
<rect x="310.43" y="780.61" width="8.18" height="8.18" fill="#0b7a3b"/>
<rect x="355.93" y="790.38" width="15.84" height="15.84" fill="#696969"/>
<rect x="359.76" y="794.21" width="8.18" height="8.18" fill="#0b7a3b"/>
<rect x="405.26" y="777.18" width="15.84" height="15.84" fill="#696969"/>
<rect x="409.09" y="781.01" width="8.18" height="8.18" fill="#0b7a3b"/>
<rect x="454.59" y="763.58" width="15.84" height="15.84" fill="#696969"/>
<rect x="458.42" y="767.41" width="8.18" height="8.18" fill="#0b7a3b"/>
<rect x="503.92" y="763.58" width="15.84" height="15.84" fill="#696969"/>
<rect x="507.75" y="767.41" width="8.18" height="8.18" fill="#0b7a3b"/>
<rect x="553.25" y="804.38" width="15.84" height="15.84" fill="#696969"/>
<rect x="557.08" y="808.21" width="8.18" height="8.18" fill="#0b7a3b"/>
<path d="M117.2 709.9V702.8M110.7 702.8H123.7M166.53 715.8V699.3M160.03 699.3H173.03M215.86 764.9V750.7M209.36 750.7H222.36M265.19 737.8V726.8M258.69 726.8H271.69M314.52 784.7V764.9M308.02 764.9H321.02M363.85 798.3V780.7M357.35 780.7H370.35M413.18 785.1V765.3M406.68 765.3H419.68M511.84 771.5V751.4M505.34 751.4H518.34M561.17 812.3V797.6M554.67 797.6H567.67" stroke="#000" stroke-width="3.1" fill="none"/>
<polyline points="117.2,709.9 166.53,715.8 215.86,764.9 265.19,737.8 314.52,784.7 363.85,798.3 413.18,785.1 462.51,771.5 511.84,771.5 561.17,812.3" stroke="#0b7a3b" stroke-width="3.1" fill="none" stroke-linejoin="miter"/>
<line x1="93" y1="604.2" x2="93" y2="938.4" stroke="#000" stroke-width="5.2"/>
<line x1="83.2" y1="935.8" x2="588.2" y2="935.8" stroke="#000" stroke-width="5.2"/>
<line x1="83.2" y1="606.8" x2="93" y2="606.8" stroke="#000" stroke-width="5.2"/>
<text x="80.2" y="615.57" font-size="24.5" font-weight="bold" font-style="normal" text-anchor="end" fill="#000" >3</text>
<line x1="83.2" y1="716.5" x2="93" y2="716.5" stroke="#000" stroke-width="5.2"/>
<text x="80.2" y="725.27" font-size="24.5" font-weight="bold" font-style="normal" text-anchor="end" fill="#000" >2</text>
<line x1="83.2" y1="826.2" x2="93" y2="826.2" stroke="#000" stroke-width="5.2"/>
<text x="80.2" y="834.97" font-size="24.5" font-weight="bold" font-style="normal" text-anchor="end" fill="#000" >1</text>
<line x1="83.2" y1="935.8" x2="93" y2="935.8" stroke="#000" stroke-width="5.2"/>
<text x="80.2" y="944.57" font-size="24.5" font-weight="bold" font-style="normal" text-anchor="end" fill="#000" >0</text>
<line x1="117.2" y1="935.8" x2="117.2" y2="945.3" stroke="#000" stroke-width="5.2"/>
<text x="117.2" y="971.3" font-size="24.5" font-weight="bold" font-style="normal" text-anchor="middle" fill="#000" >8</text>
<line x1="166.53" y1="935.8" x2="166.53" y2="945.3" stroke="#000" stroke-width="5.2"/>
<text x="166.53" y="971.3" font-size="24.5" font-weight="bold" font-style="normal" text-anchor="middle" fill="#000" >9</text>
<line x1="215.86" y1="935.8" x2="215.86" y2="945.3" stroke="#000" stroke-width="5.2"/>
<text x="215.86" y="971.3" font-size="24.5" font-weight="bold" font-style="normal" text-anchor="middle" fill="#000" >10</text>
<line x1="265.19" y1="935.8" x2="265.19" y2="945.3" stroke="#000" stroke-width="5.2"/>
<text x="265.19" y="971.3" font-size="24.5" font-weight="bold" font-style="normal" text-anchor="middle" fill="#000" >11</text>
<line x1="314.52" y1="935.8" x2="314.52" y2="945.3" stroke="#000" stroke-width="5.2"/>
<text x="314.52" y="971.3" font-size="24.5" font-weight="bold" font-style="normal" text-anchor="middle" fill="#000" >12</text>
<line x1="363.85" y1="935.8" x2="363.85" y2="945.3" stroke="#000" stroke-width="5.2"/>
<text x="363.85" y="971.3" font-size="24.5" font-weight="bold" font-style="normal" text-anchor="middle" fill="#000" >13</text>
<line x1="413.18" y1="935.8" x2="413.18" y2="945.3" stroke="#000" stroke-width="5.2"/>
<text x="413.18" y="971.3" font-size="24.5" font-weight="bold" font-style="normal" text-anchor="middle" fill="#000" >14</text>
<line x1="462.51" y1="935.8" x2="462.51" y2="945.3" stroke="#000" stroke-width="5.2"/>
<text x="462.51" y="971.3" font-size="24.5" font-weight="bold" font-style="normal" text-anchor="middle" fill="#000" >15</text>
<line x1="511.84" y1="935.8" x2="511.84" y2="945.3" stroke="#000" stroke-width="5.2"/>
<text x="511.84" y="971.3" font-size="24.5" font-weight="bold" font-style="normal" text-anchor="middle" fill="#000" >16</text>
<line x1="561.17" y1="935.8" x2="561.17" y2="945.3" stroke="#000" stroke-width="5.2"/>
<text x="561.17" y="971.3" font-size="24.5" font-weight="bold" font-style="normal" text-anchor="middle" fill="#000" >17</text>
<text x="332.8" y="1020" font-size="27" font-weight="bold" font-style="normal" text-anchor="middle" fill="#000" >Days</text>
<text transform="translate(31 775.3) rotate(-90)" font-size="27.8" font-weight="bold" text-anchor="middle">Fecal consistency score</text>
<text x="577.5" y="840.8" font-size="26" font-weight="normal" font-style="normal" text-anchor="start" fill="#000" letter-spacing="2.4" stroke="#000" stroke-width="0.45">**</text>
</g>
<g id="panelD">
<circle cx="918.7" cy="864.6" r="6.4" fill="#000000"/>
<circle cx="966.25" cy="890.8" r="6.4" fill="#000000"/>
<circle cx="1013.8" cy="871.4" r="6.4" fill="#000000"/>
<circle cx="1061.35" cy="878.4" r="6.4" fill="#000000"/>
<circle cx="1108.9" cy="885.8" r="6.4" fill="#000000"/>
<circle cx="1156.45" cy="886.4" r="6.4" fill="#000000"/>
<circle cx="1204" cy="877.8" r="6.4" fill="#000000"/>
<circle cx="1251.55" cy="885.1" r="6.4" fill="#000000"/>
<circle cx="1299.1" cy="901.2" r="6.4" fill="#000000"/>
<circle cx="1346.65" cy="890.7" r="6.4" fill="#000000"/>
<rect x="912.1" y="774.4" width="13.2" height="13.2" fill="#7d0040"/>
<rect x="959.65" y="788.6" width="13.2" height="13.2" fill="#7d0040"/>
<rect x="1007.2" y="787.9" width="13.2" height="13.2" fill="#7d0040"/>
<rect x="1054.75" y="793" width="13.2" height="13.2" fill="#7d0040"/>
<rect x="1102.3" y="817.4" width="13.2" height="13.2" fill="#7d0040"/>
<rect x="1149.85" y="785.8" width="13.2" height="13.2" fill="#7d0040"/>
<rect x="1197.4" y="858" width="13.2" height="13.2" fill="#7d0040"/>
<rect x="1244.95" y="874.8" width="13.2" height="13.2" fill="#7d0040"/>
<rect x="1292.5" y="865.4" width="13.2" height="13.2" fill="#7d0040"/>
<rect x="1340.05" y="844.4" width="13.2" height="13.2" fill="#7d0040"/>
<polygon points="918.7,766.17 912.2,777.88 925.2,777.88" fill="#00ffff"/>
<polygon points="966.25,779.38 959.75,791.08 972.75,791.08" fill="#00ffff"/>
<polygon points="1013.8,716.27 1007.3,727.98 1020.3,727.98" fill="#00ffff"/>
<polygon points="1061.35,781.67 1054.85,793.38 1067.85,793.38" fill="#00ffff"/>
<polygon points="1108.9,836.17 1102.4,847.88 1115.4,847.88" fill="#00ffff"/>
<polygon points="1156.45,862.17 1149.95,873.88 1162.95,873.88" fill="#00ffff"/>
<polygon points="1204,851.17 1197.5,862.88 1210.5,862.88" fill="#00ffff"/>
<polygon points="1251.55,867.97 1245.05,879.67 1258.05,879.67" fill="#00ffff"/>
<polygon points="1299.1,863.57 1292.6,875.27 1305.6,875.27" fill="#00ffff"/>
<polygon points="1346.65,869.47 1340.15,881.17 1353.15,881.17" fill="#00ffff"/>
<polygon points="918.7,791.53 912.2,779.83 925.2,779.83" fill="#6666ff"/>
<polygon points="966.25,804.83 959.75,793.12 972.75,793.12" fill="#6666ff"/>
<polygon points="1013.8,753.43 1007.3,741.73 1020.3,741.73" fill="#6666ff"/>
<polygon points="1061.35,754.83 1054.85,743.12 1067.85,743.12" fill="#6666ff"/>
<polygon points="1108.9,766.62 1102.4,754.92 1115.4,754.92" fill="#6666ff"/>
<polygon points="1156.45,777.23 1149.95,765.52 1162.95,765.52" fill="#6666ff"/>
<polygon points="1204,850.33 1197.5,838.62 1210.5,838.62" fill="#6666ff"/>
<polygon points="1251.55,851.03 1245.05,839.33 1258.05,839.33" fill="#6666ff"/>
<polygon points="1299.1,879.43 1292.6,867.73 1305.6,867.73" fill="#6666ff"/>
<polygon points="1346.65,858.23 1340.15,846.52 1353.15,846.52" fill="#6666ff"/>
<polygon points="918.7,794.6 925,800.9 918.7,807.2 912.4,800.9" fill="#ff0000"/>
<polygon points="966.25,762.3 972.55,768.6 966.25,774.9 959.95,768.6" fill="#ff0000"/>
<polygon points="1013.8,786.3 1020.1,792.6 1013.8,798.9 1007.5,792.6" fill="#ff0000"/>
<polygon points="1061.35,763.8 1067.65,770.1 1061.35,776.4 1055.05,770.1" fill="#ff0000"/>
<polygon points="1108.9,866.1 1115.2,872.4 1108.9,878.7 1102.6,872.4" fill="#ff0000"/>
<polygon points="1156.45,875.9 1162.75,882.2 1156.45,888.5 1150.15,882.2" fill="#ff0000"/>
<polygon points="1204,832.5 1210.3,838.8 1204,845.1 1197.7,838.8" fill="#ff0000"/>
<polygon points="1251.55,896.4 1257.85,902.7 1251.55,909 1245.25,902.7" fill="#ff0000"/>
<polygon points="1299.1,877.3 1305.4,883.6 1299.1,889.9 1292.8,883.6" fill="#ff0000"/>
<polygon points="1346.65,861.2 1352.95,867.5 1346.65,873.8 1340.35,867.5" fill="#ff0000"/>
<circle cx="918.7" cy="797.9" r="7.24" fill="#a3a3a3"/>
<circle cx="918.7" cy="797.9" r="4.54" fill="#0000ff"/>
<circle cx="966.25" cy="789.1" r="7.24" fill="#a3a3a3"/>
<circle cx="966.25" cy="789.1" r="4.54" fill="#0000ff"/>
<circle cx="1013.8" cy="777.4" r="7.24" fill="#a3a3a3"/>
<circle cx="1013.8" cy="777.4" r="4.54" fill="#0000ff"/>
<circle cx="1061.35" cy="812.6" r="7.24" fill="#a3a3a3"/>
<circle cx="1061.35" cy="812.6" r="4.54" fill="#0000ff"/>
<circle cx="1108.9" cy="839.4" r="7.24" fill="#a3a3a3"/>
<circle cx="1108.9" cy="839.4" r="4.54" fill="#0000ff"/>
<circle cx="1156.45" cy="843.5" r="7.24" fill="#a3a3a3"/>
<circle cx="1156.45" cy="843.5" r="4.54" fill="#0000ff"/>
<circle cx="1204" cy="816" r="7.24" fill="#a3a3a3"/>
<circle cx="1204" cy="816" r="4.54" fill="#0000ff"/>
<circle cx="1251.55" cy="864.6" r="7.24" fill="#a3a3a3"/>
<circle cx="1251.55" cy="864.6" r="4.54" fill="#0000ff"/>
<circle cx="1299.1" cy="872.6" r="7.24" fill="#a3a3a3"/>
<circle cx="1299.1" cy="872.6" r="4.54" fill="#0000ff"/>
<circle cx="1346.65" cy="838.8" r="7.24" fill="#a3a3a3"/>
<circle cx="1346.65" cy="838.8" r="4.54" fill="#0000ff"/>
<rect x="910.78" y="789.88" width="15.84" height="15.84" fill="#696969"/>
<rect x="914.61" y="793.71" width="8.18" height="8.18" fill="#008000"/>
<rect x="958.33" y="816.08" width="15.84" height="15.84" fill="#696969"/>
<rect x="962.16" y="819.91" width="8.18" height="8.18" fill="#008000"/>
<rect x="1005.88" y="810.58" width="15.84" height="15.84" fill="#696969"/>
<rect x="1009.71" y="814.41" width="8.18" height="8.18" fill="#008000"/>
<rect x="1053.43" y="754.78" width="15.84" height="15.84" fill="#696969"/>
<rect x="1057.26" y="758.61" width="8.18" height="8.18" fill="#008000"/>
<rect x="1100.98" y="795.38" width="15.84" height="15.84" fill="#696969"/>
<rect x="1104.81" y="799.21" width="8.18" height="8.18" fill="#008000"/>
<rect x="1148.53" y="832.68" width="15.84" height="15.84" fill="#696969"/>
<rect x="1152.36" y="836.51" width="8.18" height="8.18" fill="#008000"/>
<rect x="1196.08" y="863.98" width="15.84" height="15.84" fill="#696969"/>
<rect x="1199.91" y="867.81" width="8.18" height="8.18" fill="#008000"/>
<rect x="1243.63" y="814.68" width="15.84" height="15.84" fill="#696969"/>
<rect x="1247.46" y="818.51" width="8.18" height="8.18" fill="#008000"/>
<rect x="1291.18" y="827.88" width="15.84" height="15.84" fill="#696969"/>
<rect x="1295.01" y="831.71" width="8.18" height="8.18" fill="#008000"/>
<rect x="1338.73" y="848.58" width="15.84" height="15.84" fill="#696969"/>
<rect x="1342.56" y="852.41" width="8.18" height="8.18" fill="#008000"/>
<path d="M918.7 864.6V851.5M912.2 851.5H925.2M966.25 890.8V881.2M959.75 881.2H972.75M1013.8 871.4V852.4M1007.3 852.4H1020.3M1061.35 878.4V870.8M1054.85 870.8H1067.85M1108.9 885.8V877.5M1102.4 877.5H1115.4M1346.65 890.7V882.5M1340.15 882.5H1353.15" stroke="#000000" stroke-width="3.2" fill="none"/>
<polyline points="918.7,864.6 966.25,890.8 1013.8,871.4 1061.35,878.4 1108.9,885.8 1156.45,886.4 1204,877.8 1251.55,885.1 1299.1,901.2 1346.65,890.7" stroke="#000000" stroke-width="3.2" fill="none" stroke-linejoin="miter"/>
<path d="M1013.8 794.5V764.9M1007.3 764.9H1020.3M1061.35 799.6V782M1054.85 782H1067.85M1108.9 824V808M1102.4 808H1115.4M1156.45 792.4V773.4M1149.95 773.4H1162.95M1299.1 872V858M1292.6 858H1305.6M1346.65 851V835.2M1340.15 835.2H1353.15" stroke="#7d0040" stroke-width="3.2" fill="none"/>
<polyline points="918.7,781 966.25,795.2 1013.8,794.5 1061.35,799.6 1108.9,824 1156.45,792.4 1204,864.6 1251.55,881.4 1299.1,872 1346.65,851" stroke="#7d0040" stroke-width="3.2" fill="none" stroke-linejoin="miter"/>
<path d="M918.7 773V741.9M912.2 741.9H925.2M966.25 786.2V760.2M959.75 760.2H972.75M1013.8 723.1V677.3M1007.3 677.3H1020.3M1061.35 788.5V759M1054.85 759H1067.85M1156.45 869V855M1149.95 855H1162.95M1204 858V850.6M1197.5 850.6H1210.5M1251.55 874.8V868M1245.05 868H1258.05M1299.1 870.4V855.8M1292.6 855.8H1305.6M1346.65 876.3V866M1340.15 866H1353.15" stroke="#00ffff" stroke-width="3.2" fill="none"/>
<polyline points="918.7,773 966.25,786.2 1013.8,723.1 1061.35,788.5 1108.9,843 1156.45,869 1204,858 1251.55,874.8 1299.1,870.4 1346.65,876.3" stroke="#00ffff" stroke-width="3.2" fill="none" stroke-linejoin="miter"/>
<path d="M918.7 784.7V763.4M912.2 763.4H925.2M966.25 798V781.8M959.75 781.8H972.75M1013.8 746.6V703.3M1007.3 703.3H1020.3M1061.35 748V700.4M1054.85 700.4H1067.85M1108.9 759.8V729M1102.4 729H1115.4M1156.45 770.4V729.3M1149.95 729.3H1162.95M1204 843.5V824M1197.5 824H1210.5M1251.55 844.2V821.8M1245.05 821.8H1258.05" stroke="#6666ff" stroke-width="3.2" fill="none"/>
<polyline points="918.7,784.7 966.25,798 1013.8,746.6 1061.35,748 1108.9,759.8 1156.45,770.4 1204,843.5 1251.55,844.2 1299.1,872.6 1346.65,851.4" stroke="#6666ff" stroke-width="3.2" fill="none" stroke-linejoin="miter"/>
<path d="M966.25 768.6V745.5M959.75 745.5H972.75M1013.8 792.6V773M1007.3 773H1020.3M1061.35 770.1V745.5M1054.85 745.5H1067.85M1108.9 872.4V866.6M1102.4 866.6H1115.4M1156.45 882.2V876.3M1149.95 876.3H1162.95M1204 838.8V820M1197.5 820H1210.5M1346.65 867.5V858M1340.15 858H1353.15" stroke="#ff0000" stroke-width="3.2" fill="none"/>
<polyline points="918.7,800.9 966.25,768.6 1013.8,792.6 1061.35,770.1 1108.9,872.4 1156.45,882.2 1204,838.8 1251.55,902.7 1299.1,883.6 1346.65,867.5" stroke="#ff0000" stroke-width="3.2" fill="none" stroke-linejoin="miter"/>
<path d="M918.7 797.9V784M912.2 784H925.2M966.25 789.1V769.3M959.75 769.3H972.75M1013.8 777.4V750.2M1007.3 750.2H1020.3M1061.35 812.6V791.6M1054.85 791.6H1067.85M1108.9 839.4V826.7M1102.4 826.7H1115.4M1156.45 843.5V833.2M1149.95 833.2H1162.95M1204 816V782.9M1197.5 782.9H1210.5M1251.55 864.6V851M1245.05 851H1258.05M1299.1 872.6V859.4M1292.6 859.4H1305.6M1346.65 838.8V818M1340.15 818H1353.15" stroke="#0000ff" stroke-width="3.2" fill="none"/>
<polyline points="918.7,797.9 966.25,789.1 1013.8,777.4 1061.35,812.6 1108.9,839.4 1156.45,843.5 1204,816 1251.55,864.6 1299.1,872.6 1346.65,838.8" stroke="#0000ff" stroke-width="3.2" fill="none" stroke-linejoin="miter"/>
<path d="M918.7 797.8V773.7M912.2 773.7H925.2M966.25 824V809M959.75 809H972.75M1013.8 818.5V799.3M1007.3 799.3H1020.3M1061.35 762.7V735.6M1054.85 735.6H1067.85M1108.9 803.3V781.8M1102.4 781.8H1115.4M1156.45 840.6V805.9M1149.95 805.9H1162.95M1251.55 822.6V777.5M1245.05 777.5H1258.05M1299.1 835.8V801.5M1292.6 801.5H1305.6M1346.65 856.5V839.3M1340.15 839.3H1353.15" stroke="#008000" stroke-width="3.2" fill="none"/>
<polyline points="918.7,797.8 966.25,824 1013.8,818.5 1061.35,762.7 1108.9,803.3 1156.45,840.6 1204,871.9 1251.55,822.6 1299.1,835.8 1346.65,856.5" stroke="#008000" stroke-width="3.2" fill="none" stroke-linejoin="miter"/>
<line x1="894.5" y1="610.4" x2="894.5" y2="943.9" stroke="#000" stroke-width="5.2"/>
<line x1="884.8" y1="941.3" x2="1373.6" y2="941.3" stroke="#000" stroke-width="5.2"/>
<line x1="884.8" y1="613" x2="894.5" y2="613" stroke="#000" stroke-width="5.2"/>
<text x="881.8" y="621.77" font-size="24.5" font-weight="bold" font-style="normal" text-anchor="end" fill="#000" >4</text>
<line x1="884.8" y1="695" x2="894.5" y2="695" stroke="#000" stroke-width="5.2"/>
<text x="881.8" y="703.77" font-size="24.5" font-weight="bold" font-style="normal" text-anchor="end" fill="#000" >3</text>
<line x1="884.8" y1="777" x2="894.5" y2="777" stroke="#000" stroke-width="5.2"/>
<text x="881.8" y="785.77" font-size="24.5" font-weight="bold" font-style="normal" text-anchor="end" fill="#000" >2</text>
<line x1="884.8" y1="859" x2="894.5" y2="859" stroke="#000" stroke-width="5.2"/>
<text x="881.8" y="867.77" font-size="24.5" font-weight="bold" font-style="normal" text-anchor="end" fill="#000" >1</text>
<line x1="884.8" y1="941.3" x2="894.5" y2="941.3" stroke="#000" stroke-width="5.2"/>
<text x="881.8" y="950.07" font-size="24.5" font-weight="bold" font-style="normal" text-anchor="end" fill="#000" >0</text>
<line x1="918.7" y1="941.3" x2="918.7" y2="951.3" stroke="#000" stroke-width="5.2"/>
<text x="918.7" y="976.8" font-size="24.5" font-weight="bold" font-style="normal" text-anchor="middle" fill="#000" >8</text>
<line x1="966.25" y1="941.3" x2="966.25" y2="951.3" stroke="#000" stroke-width="5.2"/>
<text x="966.25" y="976.8" font-size="24.5" font-weight="bold" font-style="normal" text-anchor="middle" fill="#000" >9</text>
<line x1="1013.8" y1="941.3" x2="1013.8" y2="951.3" stroke="#000" stroke-width="5.2"/>
<text x="1013.8" y="976.8" font-size="24.5" font-weight="bold" font-style="normal" text-anchor="middle" fill="#000" >10</text>
<line x1="1061.35" y1="941.3" x2="1061.35" y2="951.3" stroke="#000" stroke-width="5.2"/>
<text x="1061.35" y="976.8" font-size="24.5" font-weight="bold" font-style="normal" text-anchor="middle" fill="#000" >11</text>
<line x1="1108.9" y1="941.3" x2="1108.9" y2="951.3" stroke="#000" stroke-width="5.2"/>
<text x="1108.9" y="976.8" font-size="24.5" font-weight="bold" font-style="normal" text-anchor="middle" fill="#000" >12</text>
<line x1="1156.45" y1="941.3" x2="1156.45" y2="951.3" stroke="#000" stroke-width="5.2"/>
<text x="1156.45" y="976.8" font-size="24.5" font-weight="bold" font-style="normal" text-anchor="middle" fill="#000" >13</text>
<line x1="1204" y1="941.3" x2="1204" y2="951.3" stroke="#000" stroke-width="5.2"/>
<text x="1204" y="976.8" font-size="24.5" font-weight="bold" font-style="normal" text-anchor="middle" fill="#000" >14</text>
<line x1="1251.55" y1="941.3" x2="1251.55" y2="951.3" stroke="#000" stroke-width="5.2"/>
<text x="1251.55" y="976.8" font-size="24.5" font-weight="bold" font-style="normal" text-anchor="middle" fill="#000" >15</text>
<line x1="1299.1" y1="941.3" x2="1299.1" y2="951.3" stroke="#000" stroke-width="5.2"/>
<text x="1299.1" y="976.8" font-size="24.5" font-weight="bold" font-style="normal" text-anchor="middle" fill="#000" >16</text>
<line x1="1346.65" y1="941.3" x2="1346.65" y2="951.3" stroke="#000" stroke-width="5.2"/>
<text x="1346.65" y="976.8" font-size="24.5" font-weight="bold" font-style="normal" text-anchor="middle" fill="#000" >17</text>
<text x="1137.5" y="1014.8" font-size="26.5" font-weight="bold" font-style="normal" text-anchor="middle" fill="#000" >Days</text>
<text transform="translate(839.3 772) rotate(-90)" font-size="26.4" font-weight="bold" text-anchor="middle">Stool Weight (g/120min)</text>
<text x="1363" y="879.6" font-size="26" font-weight="normal" font-style="normal" text-anchor="start" fill="#000" letter-spacing="2.1" stroke="#000" stroke-width="0.45">**</text>
</g>
<g id="legendD">
<line x1="1401.2" y1="633.2" x2="1435.6" y2="633.2" stroke="#000000" stroke-width="3.4"/>
<circle cx="1418.4" cy="633.2" r="6.5" fill="#000000"/>
<text x="1455.5" y="641.6" font-size="25.3" font-weight="normal" font-style="normal" text-anchor="start" fill="#000" xml:space="preserve">Normal control</text>
<line x1="1401.2" y1="670.6" x2="1435.6" y2="670.6" stroke="#7d0040" stroke-width="3.4"/>
<rect x="1411.9" y="664.1" width="13" height="13" fill="#7d0040"/>
<text x="1455.5" y="679.3" font-size="25.3" font-weight="normal" font-style="normal" text-anchor="start" fill="#000" xml:space="preserve">AAD model</text>
<line x1="1401.2" y1="713.7" x2="1435.6" y2="713.7" stroke="#00ffff" stroke-width="3.4"/>
<polygon points="1418.4,706.88 1411.9,718.58 1424.9,718.58" fill="#00ffff"/>
<text x="1455.5" y="727.4" font-size="25.3" font-weight="normal" font-style="normal" text-anchor="start" fill="#000" xml:space="preserve">ZY312 (10<tspan font-size="19.5" dy="-13" dx="1.5">7</tspan><tspan dy="13" dx="-1.3" font-size="26.6"> CFU/d)</tspan></text>
<line x1="1401.2" y1="761.1" x2="1435.6" y2="761.1" stroke="#6666ff" stroke-width="3.4"/>
<polygon points="1418.4,767.93 1411.9,756.23 1424.9,756.23" fill="#6666ff"/>
<text x="1455.5" y="774.6" font-size="25.3" font-weight="normal" font-style="normal" text-anchor="start" fill="#000" xml:space="preserve">ZY312 (10<tspan font-size="19.5" dy="-13" dx="1.5">8</tspan><tspan dy="13" dx="-1.3" font-size="26.6"> CFU/d)</tspan></text>
<line x1="1401.2" y1="808.8" x2="1435.6" y2="808.8" stroke="#ff0000" stroke-width="3.4"/>
<polygon points="1418.4,802.3 1424.9,808.8 1418.4,815.3 1411.9,808.8" fill="#ff0000"/>
<text x="1455.5" y="822.5" font-size="25.3" font-weight="normal" font-style="normal" text-anchor="start" fill="#000" xml:space="preserve">ZY312 (10<tspan font-size="19.5" dy="-13" dx="1.5">9</tspan><tspan dy="13" dx="-1.3" font-size="26.6"> CFU/d)</tspan></text>
<line x1="1401.2" y1="851.5" x2="1435.6" y2="851.5" stroke="#0000ff" stroke-width="3.4"/>
<circle cx="1418.4" cy="851.5" r="7.47" fill="#a3a3a3"/>
<circle cx="1418.4" cy="851.5" r="4.68" fill="#0000ff"/>
<text x="1455.5" y="859.9" font-size="25.3" font-weight="normal" font-style="normal" text-anchor="start" fill="#000" xml:space="preserve">Bifico<tspan dx="10" font-size="26.8">(70 mg/d)</tspan></text>
<line x1="1401.2" y1="888.6" x2="1435.6" y2="888.6" stroke="#008000" stroke-width="3.4"/>
<rect x="1410.6" y="880.8" width="15.6" height="15.6" fill="#696969"/>
<rect x="1414.37" y="884.57" width="8.06" height="8.06" fill="#008000"/>
<text x="1455.5" y="897.4" font-size="25.3" font-weight="normal" font-style="normal" text-anchor="start" fill="#000" xml:space="preserve">Bifico<tspan dx="13.1">+ ZY312</tspan></text>
</g>
</svg>
</body></html>
